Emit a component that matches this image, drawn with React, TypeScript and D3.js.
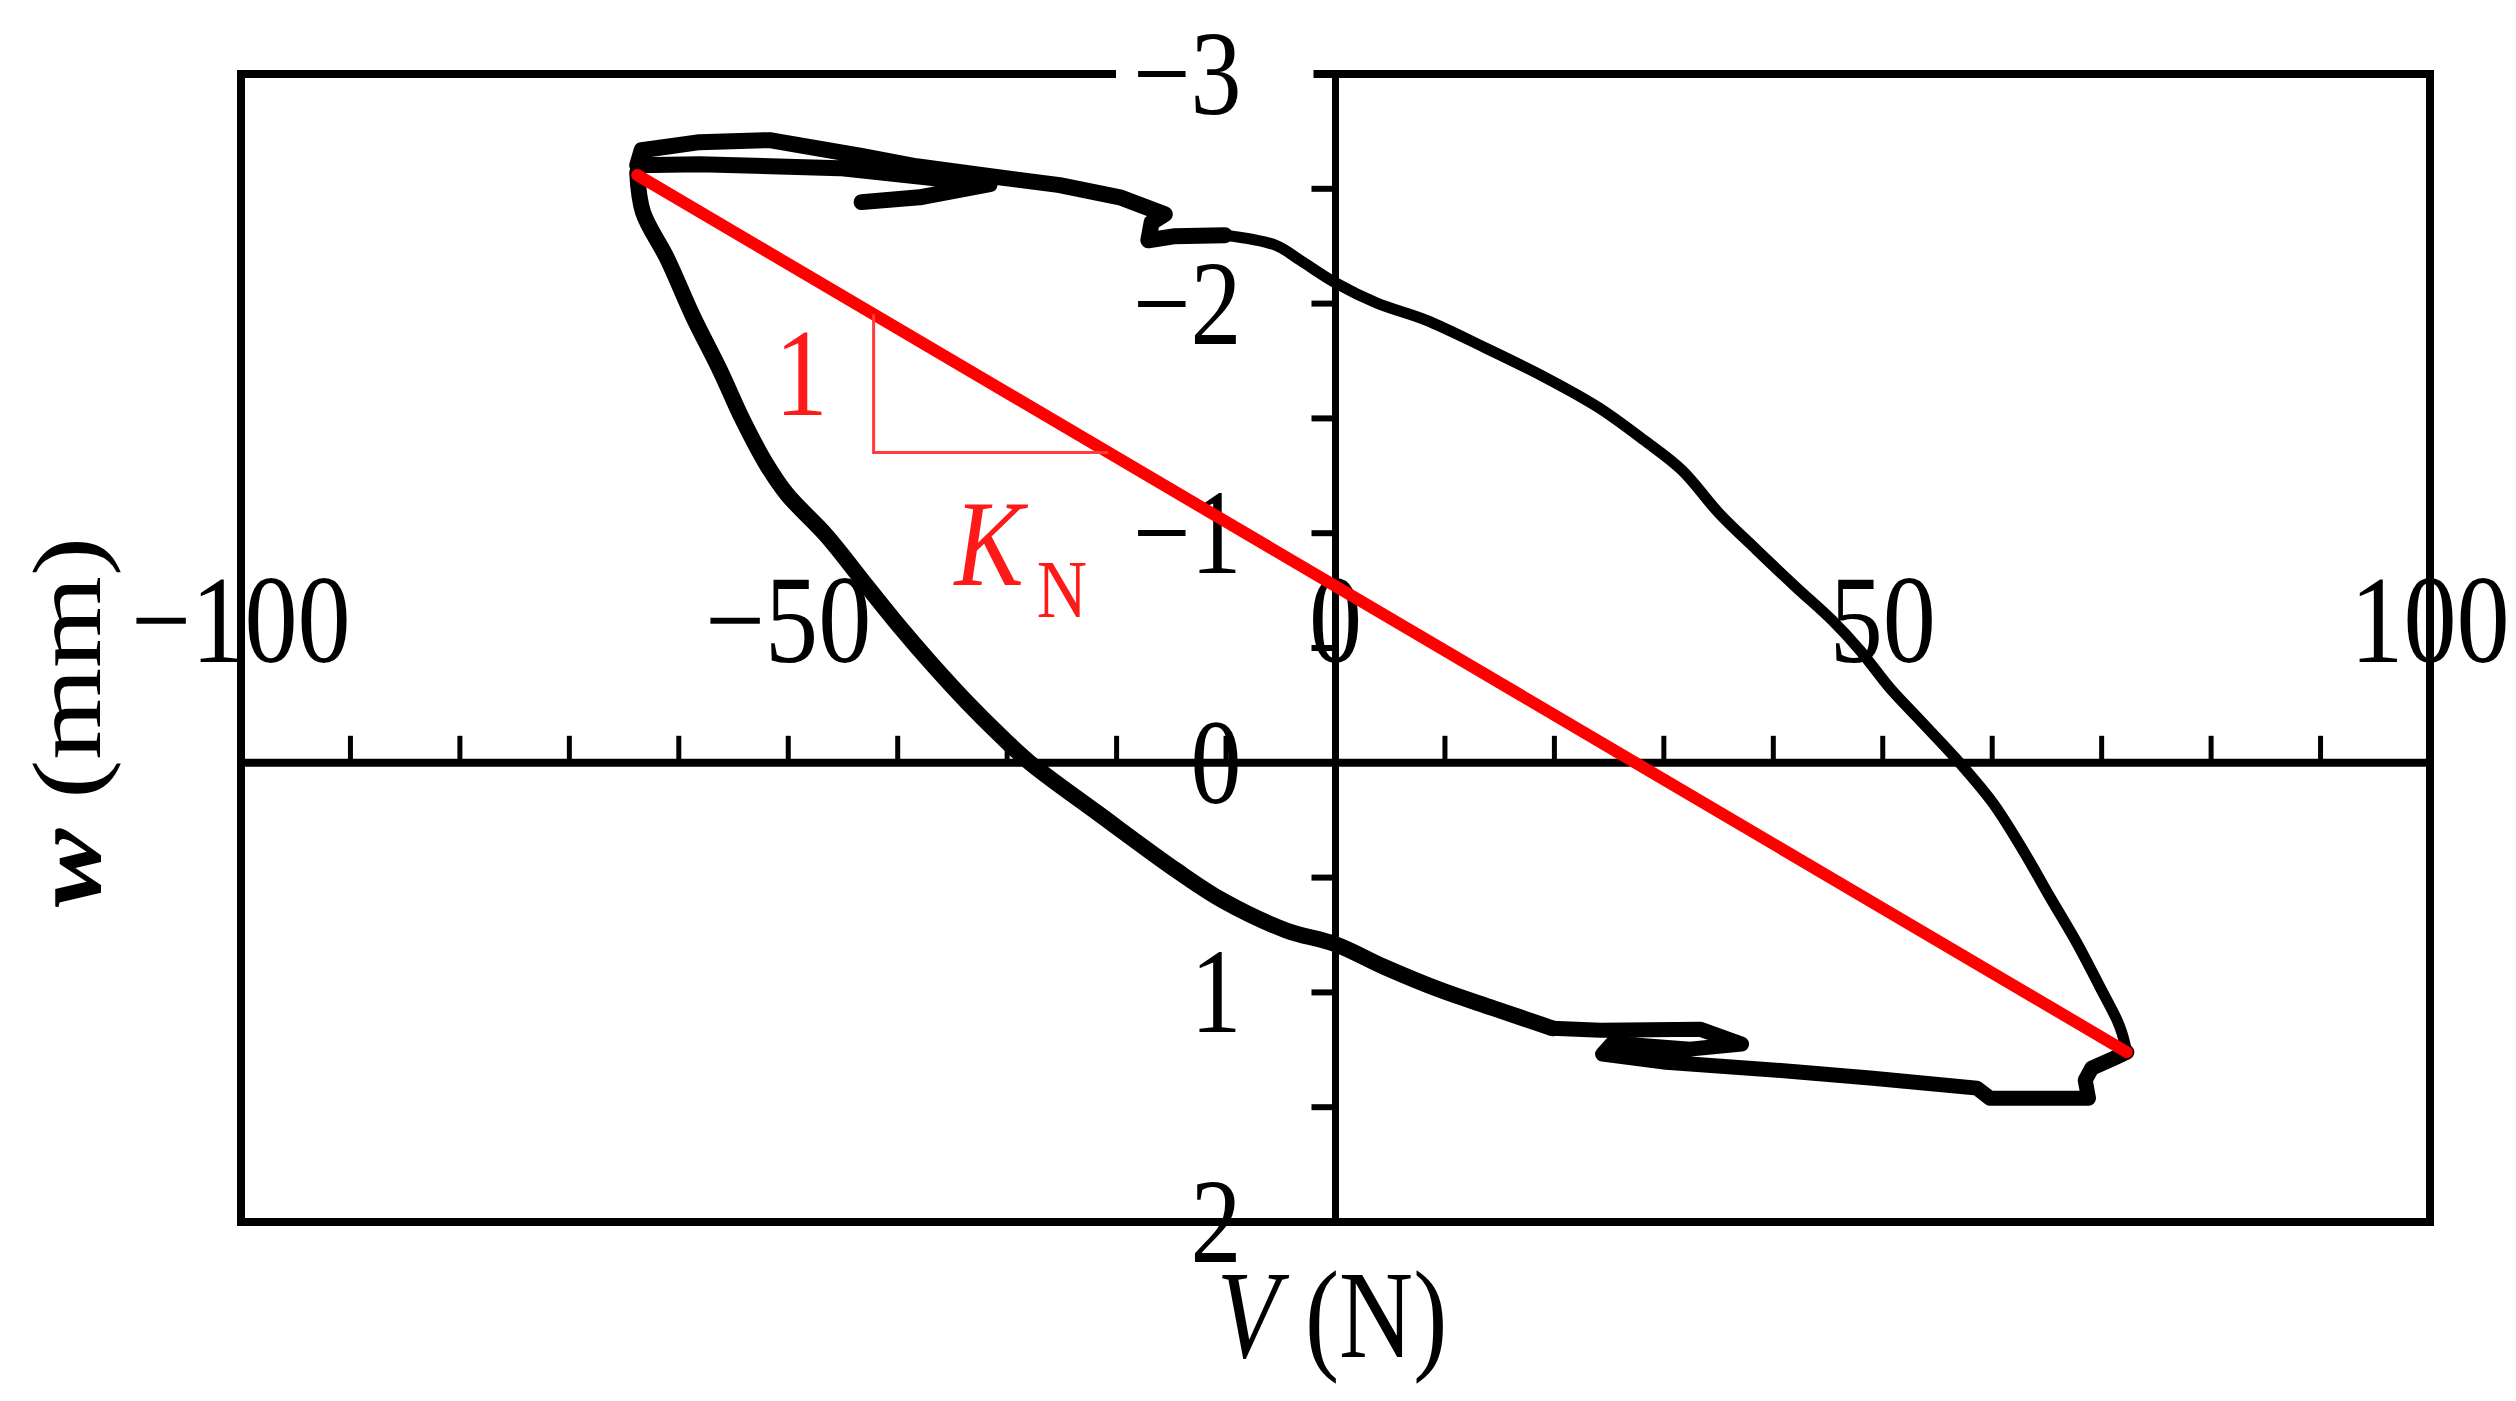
import React from 'react';
import * as d3 from 'd3';

const W = 2516;
const H = 1401;

// Axis ticks
const xLabelTicks = [-100, -50, 0, 50, 100];
const xMinorTicks = [-90, -80, -70, -60, -50, -40, -30, -20, -10, 10, 20, 30, 40, 50, 60, 70, 80, 90];
const yLabelTicks = [-3, -2, -1, 0, 1, 2];
const yMinorTicks = [-2.5, -2, -1.5, -1, -0.5, 0.5, 1, 1.5];

// Hysteresis loop, [V (N), w (mm)]
const leftBranch: [number, number][] = [
  [-63.8, -2.57], [-63.27, -2.398], [-61.08, -2.198], [-58.71, -1.945], [-56.24, -1.71],
  [-54.14, -1.492], [-51.94, -1.296], [-50.12, -1.17], [-46.46, -0.987], [-42.81, -0.769],
  [-39.79, -0.591], [-36.78, -0.425], [-33.67, -0.264], [-30.65, -0.12], [-27.91, 0.0],
  [-21.7, 0.22], [-14.5, 0.47], [-10.3, 0.6], [-4.5, 0.73], [0.0, 0.79],
  [4.5, 0.89], [9.6, 0.99], [14.5, 1.07], [19.8, 1.156],
];
const bottomBranch: [number, number][] = [
  [19.8, 1.156], [24.2, 1.165], [33.3, 1.16], [37.1, 1.225], [32.4, 1.247],
  [25.3, 1.221], [24.4, 1.269], [30.2, 1.304], [41.5, 1.343], [49.1, 1.374],
  [58.6, 1.417], [59.8, 1.461], [68.8, 1.461], [68.5, 1.382], [69.1, 1.33],
  [71.1, 1.287], [72.3, 1.26],
];
const rightBranch: [number, number][] = [
  [72.3, 1.26], [71.86, 1.178], [71.41, 1.121], [69.85, 0.977], [67.75, 0.786],
  [65.28, 0.585], [62.82, 0.381], [60.08, 0.176], [57.06, 0.002], [53.13, -0.199],
  [50.66, -0.325], [47.92, -0.49], [45.37, -0.621], [42.08, -0.765], [38.51, -0.926],
  [35.04, -1.087], [31.66, -1.274], [28.19, -1.405], [23.98, -1.549], [19.14, -1.679],
  [13.57, -1.81], [8.27, -1.928], [3.79, -2.002], [0.05, -2.089], [-3.24, -2.189],
  [-5.44, -2.254], [-10.1, -2.298],
];
const upperBranch: [number, number][] = [
  [-10.1, -2.298], [-14.8, -2.293], [-17.1, -2.276], [-16.8, -2.354], [-15.6, -2.389],
  [-19.7, -2.463], [-25.2, -2.516], [-32.2, -2.559], [-38.3, -2.598], [-43.2, -2.642],
  [-51.7, -2.712], [-58.1, -2.703], [-63.4, -2.668], [-63.8, -2.603], [-58.1, -2.607],
  [-45.3, -2.59], [-38.3, -2.555], [-31.6, -2.52], [-38.0, -2.463], [-43.3, -2.442],
];

// Secant stiffness line K_N and slope triangle
const kNLine: [number, number][] = [[-63.8, -2.56], [72.3, 1.26]];
const triangleCorner: [number, number] = [-42.2, -1.352];
const oneLabelPos: [number, number] = [-48.8, -1.514];
const kLabelPos: [number, number] = [-34.8, -0.774];
const nLabelPos: [number, number] = [-27.3, -0.634];

const FONT = "'Liberation Serif', 'Times New Roman', serif";

export default function App() {
  const x = d3.scaleLinear().domain([-100, 100]).range([241, 2430]);
  const y = d3.scaleLinear().domain([-3, 2]).range([74, 1222]);
  const line = d3.line<[number, number]>().x(d => x(d[0])).y(d => y(d[1]));
  const smooth = d3.line<[number, number]>().x(d => x(d[0])).y(d => y(d[1])).curve(d3.curveCatmullRom.alpha(0.5));

  const x0 = x(0);
  const y0 = y(0);
  const [a, b] = kNLine;
  const slope = (b[1] - a[1]) / (b[0] - a[0]);
  const wOnLine = (v: number) => a[1] + (v - a[0]) * slope;
  const vOnLine = (w: number) => a[0] + (w - a[1]) / slope;
  const tri: [number, number][] = [
    [triangleCorner[0], wOnLine(triangleCorner[0])],
    [triangleCorner[0], triangleCorner[1]],
    [vOnLine(triangleCorner[1]), triangleCorner[1]],
  ];

  const sx = 0.85;
  const lineProps = { fill: 'none', stroke: '#000', strokeLinejoin: 'round' as const, strokeLinecap: 'round' as const };

  return (
    <svg width={W} height={H} style={{ position: 'absolute', left: 0, top: 0, background: '#fff' }} fontFamily={FONT}>
      <rect x={0} y={0} width={W} height={H} fill="#fff" />
      {/* frame */}
      <rect x={x(-100)} y={y(-3)} width={x(100) - x(-100)} height={y(2) - y(-3)} fill="none" stroke="#000" strokeWidth={8} />
      {/* axes through origin */}
      <line x1={x(-100)} x2={x(100)} y1={y0} y2={y0} stroke="#000" strokeWidth={8} />
      <line x1={x0} x2={x0} y1={y(-3)} y2={y(2)} stroke="#000" strokeWidth={7} />
      {xMinorTicks.map(t => (
        <line key={'xt' + t} x1={x(t)} x2={x(t)} y1={y0} y2={y0 - 27} stroke="#000" strokeWidth={5} />
      ))}
      {yMinorTicks.map(t => (
        <line key={'yt' + t} x1={x0} x2={x0 - 24} y1={y(t)} y2={y(t)} stroke="#000" strokeWidth={6} />
      ))}
      {/* white gap behind -3 label */}
      <rect x={1116} y={y(-3) - 12} width={x0 - 1116 - 22} height={26} fill="#fff" />
      {/* y tick labels */}
      {yLabelTicks.map(t => (
        <text key={'yl' + t} transform={`translate(${x0 - 94},${y(t) + 40}) scale(${sx},1)`} textAnchor="end" fontSize={120} fill="#000">
          {t < 0 ? '\u2212' + Math.abs(t) : String(t)}
        </text>
      ))}
      {/* x tick labels */}
      {xLabelTicks.map(t => (
        <text key={'xl' + t} transform={`translate(${x(t)},662) scale(${sx},1)`} textAnchor="middle" fontSize={125} fill="#000">
          {t < 0 ? '\u2212' + Math.abs(t) : String(t)}
        </text>
      ))}
      {/* hysteresis loop */}
      <path d={smooth(leftBranch) || ''} {...lineProps} strokeWidth={16} />
      <path d={line(bottomBranch) || ''} {...lineProps} strokeWidth={15} />
      <path d={smooth(rightBranch) || ''} {...lineProps} strokeWidth={11} />
      <path d={line(upperBranch) || ''} {...lineProps} strokeWidth={16} />
      {/* K_N secant line */}
      <path d={line(kNLine) || ''} fill="none" stroke="#ff0000" strokeWidth={12} strokeLinecap="round" />
      <path d={line(tri) || ''} fill="none" stroke="#ff3b3b" strokeWidth={3} />
      <text transform={`translate(${x(oneLabelPos[0])},${y(oneLabelPos[1])}) scale(${sx},1)`} textAnchor="middle" fontSize={125} fill="#ff1a1a">1</text>
      <text transform={`translate(${x(kLabelPos[0])},${y(kLabelPos[1])}) scale(${sx},1)`} fontSize={122} fontStyle="italic" fill="#ff1a1a">K</text>
      <text transform={`translate(${x(nLabelPos[0])},${y(nLabelPos[1])}) scale(${sx},1)`} fontSize={82} fill="#ff1a1a">N</text>
      {/* axis titles */}
      <text transform={`translate(1332,1357) scale(0.82,1)`} textAnchor="middle" fontSize={125} fill="#000">
        <tspan fontStyle="italic">V</tspan> (N)
      </text>
      <text transform={`translate(100,722) rotate(-90) scale(1,0.82)`} textAnchor="middle" fontSize={118} fill="#000">
        <tspan fontStyle="italic" fontWeight="bold">w</tspan> (mm)
      </text>
    </svg>
  );
}
